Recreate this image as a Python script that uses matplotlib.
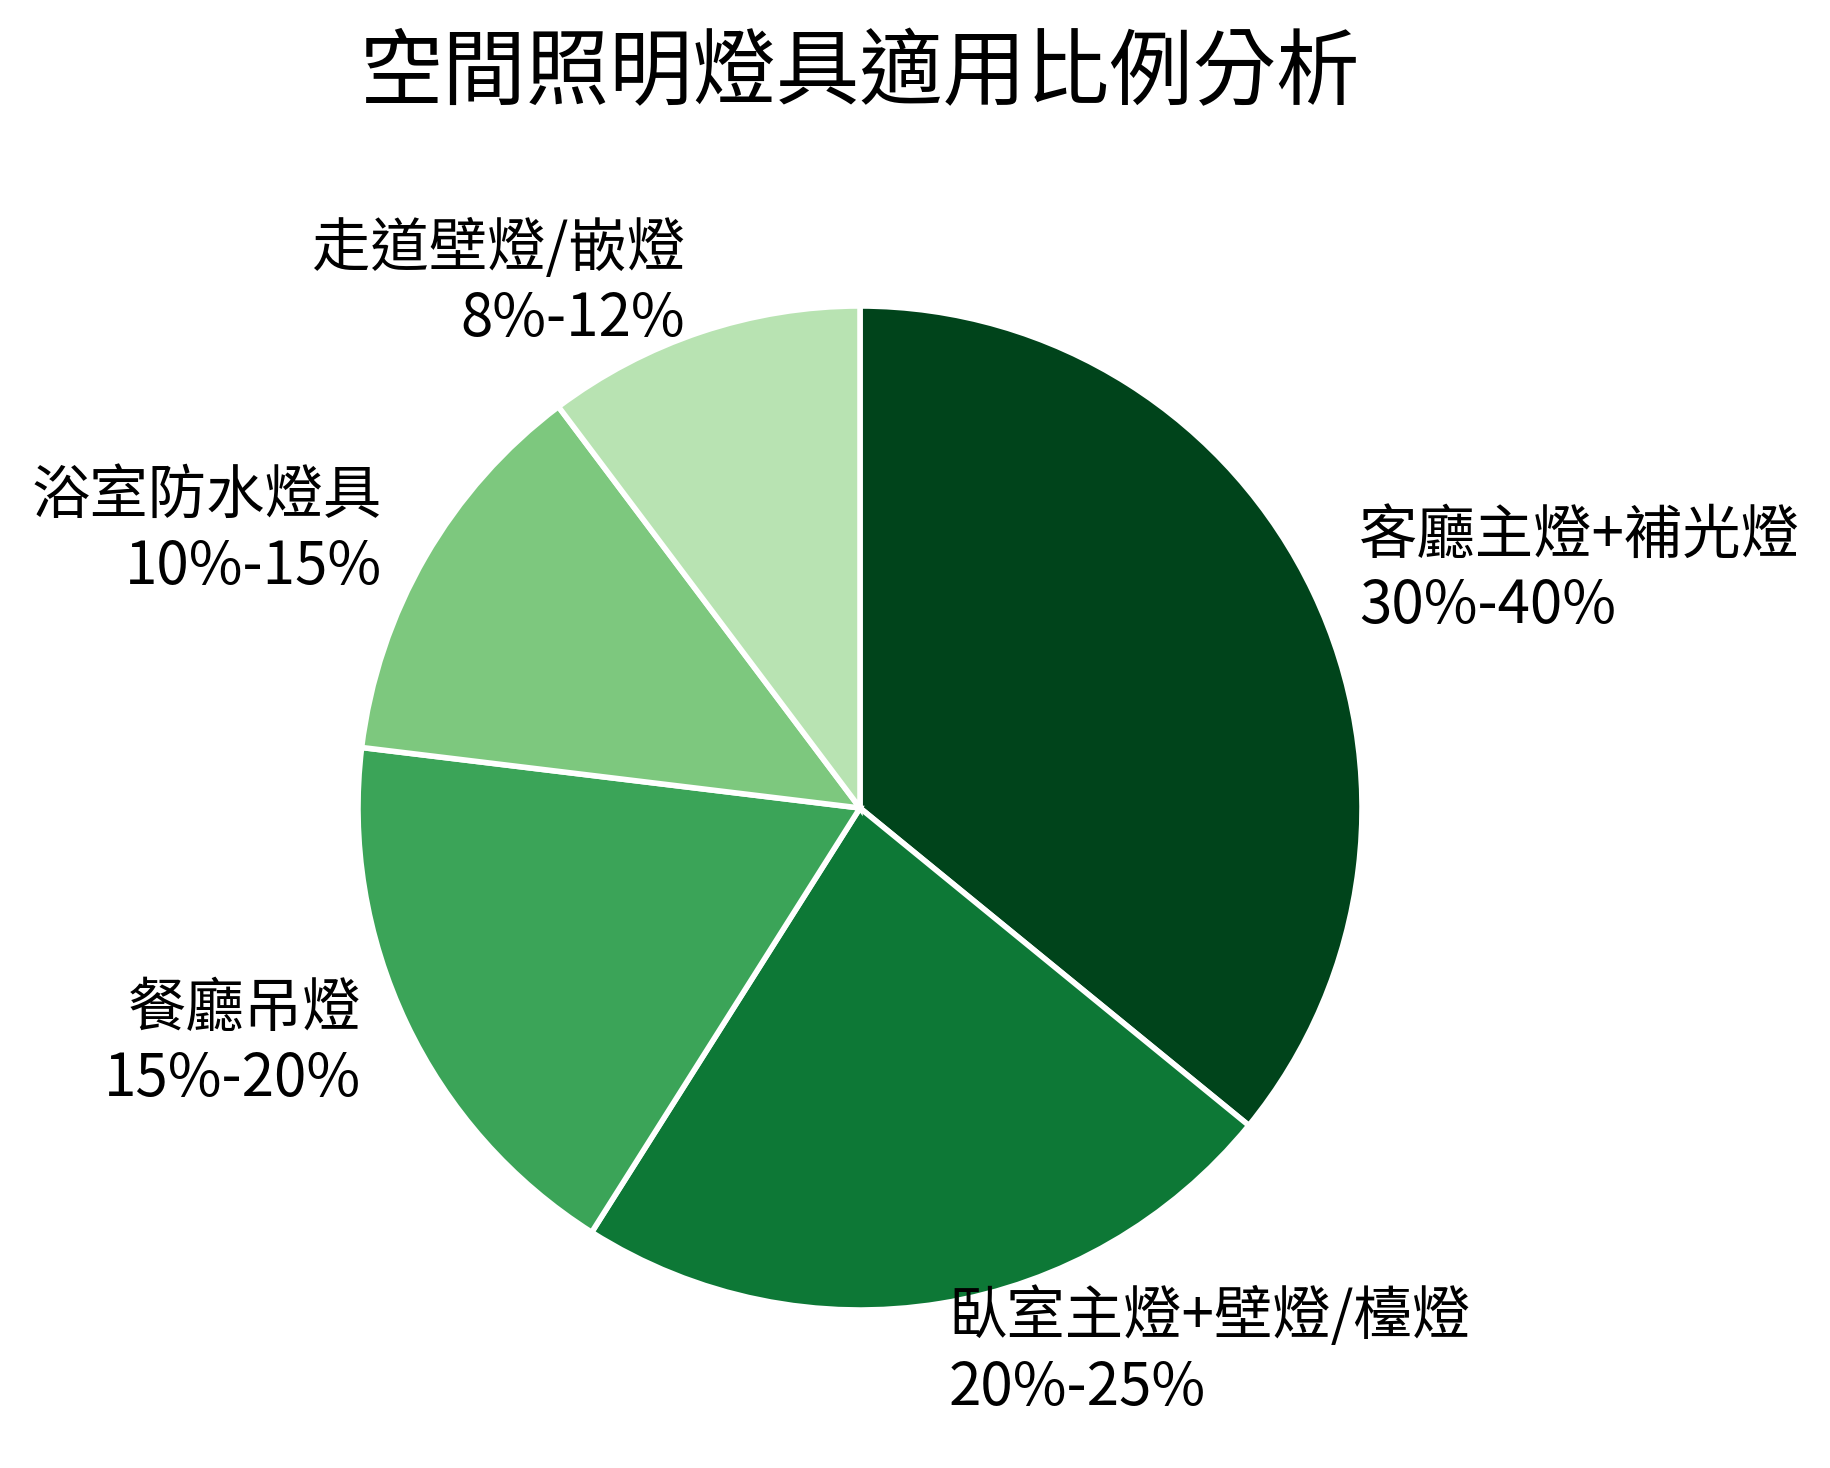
import numpy as np
import matplotlib
matplotlib.use("Agg")
import matplotlib.pyplot as plt

plt.rcParams['font.family'] = ['Noto Sans CJK TC', 'DejaVu Sans']

# 資料
categories = ['客廳主燈+補光燈', '臥室主燈+壁燈/檯燈', '餐廳吊燈', '浴室防水燈具', '走道壁燈/嵌燈']
low_pct = [30, 20, 15, 10, 8]
high_pct = [40, 25, 20, 15, 12]
title = '空間照明燈具適用比例分析'

mid = [(a + b) / 2 for a, b in zip(low_pct, high_pct)]
labels = [f'{c}\n{a}%-{b}%' for c, a, b in zip(categories, low_pct, high_pct)]
colors = plt.cm.Greens(np.linspace(1.0, 0.3, len(categories)))

W, H, dpi = 1830, 1468, 200
fig = plt.figure(figsize=(W / dpi, H / dpi), dpi=dpi)
ax = fig.add_axes([0, 0, 1, 1])

# 圓心與半徑 (像素)
cx, cy, r = 860, 808, 502

wedges, texts = ax.pie(mid, labels=labels, colors=colors, startangle=90,
                       counterclock=False, labeldistance=1.1,
                       wedgeprops=dict(edgecolor='white', linewidth=2),
                       textprops=dict(fontsize=21, color='black'))
ax.set_xlim(-cx / r, (W - cx) / r)
ax.set_ylim(-(H - cy) / r, cy / r)
ax.set_aspect('auto')
ax.axis('off')

fig.text(cx / W, 1 - 74 / H, title, ha='center', va='center', fontsize=30)

fig.savefig('out.png', dpi=dpi, facecolor='white')
